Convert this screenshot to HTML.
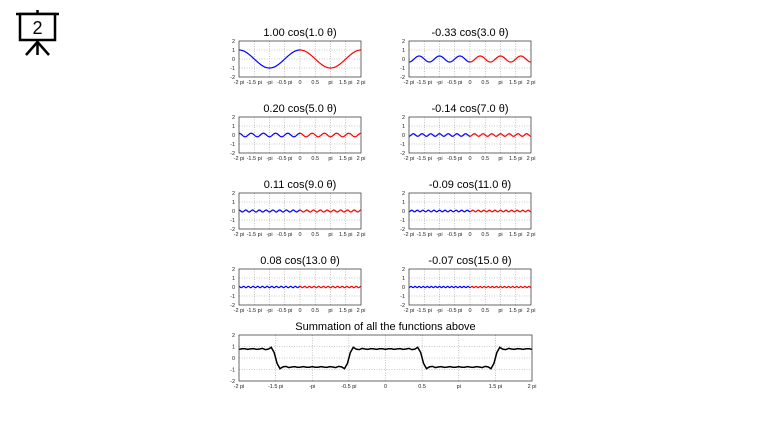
<!DOCTYPE html>
<html><head><meta charset="utf-8"><style>
html,body{margin:0;padding:0;background:#fff;width:758px;height:427px;overflow:hidden}
svg{display:block}
</style></head><body>
<svg id="s" width="758" height="427" xmlns="http://www.w3.org/2000/svg" font-family="Liberation Sans, DejaVu Sans, sans-serif">
<g stroke="#000" fill="none" stroke-width="2.5">
<line x1="16" y1="14" x2="59" y2="14"/>
<line x1="37.5" y1="10" x2="37.5" y2="14"/>
<rect x="20" y="14" width="35" height="26" fill="#fff"/>
<line x1="37.5" y1="40" x2="37.5" y2="55"/>
<line x1="37.5" y1="42" x2="26" y2="55"/>
<line x1="37.5" y1="42" x2="49" y2="55"/>
</g>
<text x="37.5" y="34" font-size="18" text-anchor="middle">2</text>
</svg>
<script>
const s=document.getElementById('s');const NS='http://www.w3.org/2000/svg';
function el(t,a,txt){const e=document.createElementNS(NS,t);for(const k in a)e.setAttribute(k,a[k]);if(txt!==undefined)e.textContent=txt;s.appendChild(e);return e;}
const PI=Math.PI;
function plot(x0,y0,w,h,title,f,split,labels,N){
  el('text',{x:x0+w/2,y:y0-5,'font-size':11,'text-anchor':'middle'},title);
  for(let i=0;i<=8;i++){const x=x0+w*i/8;
    if(i>0&&i<8)el('line',{x1:x,y1:y0,x2:x,y2:y0+h,stroke:'#999','stroke-width':0.6,'stroke-dasharray':'1,1.5'});
    el('text',{x:x,y:y0+h+7,'font-size':5.5,'text-anchor':'middle',fill:'#222'},labels[i]);}
  for(let j=0;j<=4;j++){const y=y0+h*j/4;
    if(j>0&&j<4)el('line',{x1:x0,y1:y,x2:x0+w,y2:y,stroke:'#999','stroke-width':0.6,'stroke-dasharray':'1,1.5'});
    el('text',{x:x0-4,y:y+2,'font-size':5.5,'text-anchor':'end',fill:'#222'},String(2-j));}
  let a='',b='';
  for(let i=0;i<=N;i++){const t=-2*PI+4*PI*i/N;const px=x0+w*i/N;const py=y0+h/2-f(t)*h/4;
    const p=px.toFixed(2)+','+py.toFixed(2)+' ';
    if(!split){a+=p}else{if(t<=0.0001)a+=p;if(t>=-0.0001)b+=p;}}
  if(!split)el('polyline',{points:a,fill:'none',stroke:'#000','stroke-width':1.5});
  else{el('polyline',{points:a,fill:'none',stroke:'#0000ff','stroke-width':1.2});
       el('polyline',{points:b,fill:'none',stroke:'#ff0000','stroke-width':1.2});}
  el('rect',{x:x0,y:y0,width:w,height:h,fill:'none',stroke:'#444','stroke-width':0.8});
}
const L1=['-2 pi','-1.5 pi','-pi','-0.5 pi','0','0.5','pi','1.5 pi','2 pi'];
const ns=[1,3,5,7,9,11,13,15];
const amps=ns.map(n=>(((n-1)/2)%2?-1:1)/n);
for(let k=0;k<8;k++){const r=Math.floor(k/2),c=k%2;
  const n=ns[k],a=amps[k];
  plot(c?409:239,41+76*r,122,36,a.toFixed(2)+' cos('+n.toFixed(1)+' θ)',t=>a*Math.cos(n*t),true,L1,400);}
plot(239,335,293,46,'Summation of all the functions above',t=>{let v=0;for(let k=0;k<8;k++)v+=amps[k]*Math.cos(ns[k]*t);return v;},false,L1,100);
</script>
</body></html>
